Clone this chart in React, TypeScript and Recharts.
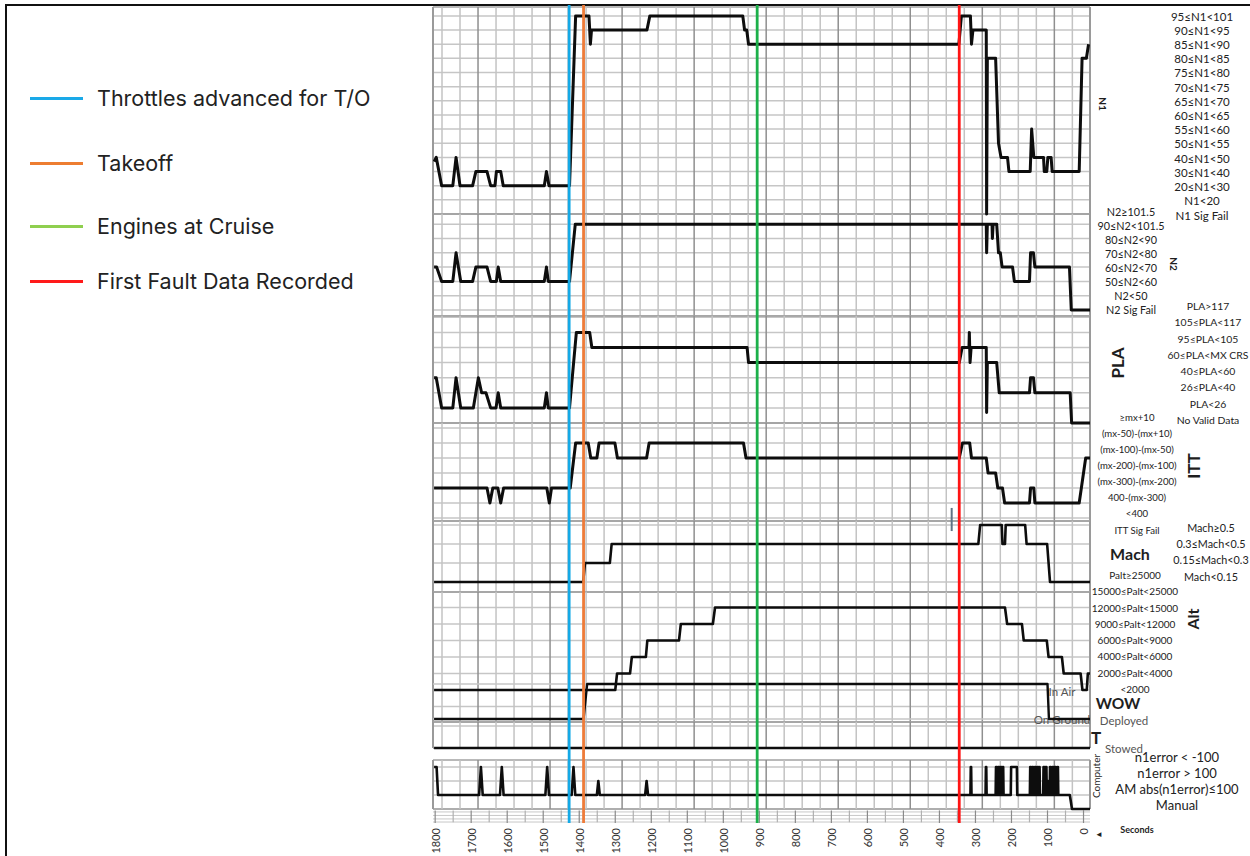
import { ComposedChart, Line, XAxis, YAxis, ReferenceLine } from "recharts";

type Pt = [number, number]; // [seconds before end, level index]

// ---------------- data ----------------
const X_TICKS = [1800, 1700, 1600, 1500, 1400, 1300, 1200, 1100, 1000, 900, 800, 700, 600, 500, 400, 300, 200, 100, 0];

const EVENT_NAMES = ["Throttles advanced for T/O", "Takeoff", "Engines at Cruise", "First Fault Data Recorded"];
const EVENT_TIMES = [1428, 1388, 906, 345];

const N1_LABELS = ["N1 Sig Fail", "N1<20", "20≤N1<30", "30≤N1<40", "40≤N1<50", "50≤N1<55", "55≤N1<60", "60≤N1<65", "65≤N1<70", "70≤N1<75", "75≤N1<80", "80≤N1<85", "85≤N1<90", "90≤N1<95", "95≤N1<101"];
const N2_LABELS = ["N2 Sig Fail", "N2<50", "50≤N2<60", "60≤N2<70", "70≤N2<80", "80≤N2<90", "90≤N2<101.5", "N2≥101.5"];
const PLA_LABELS = ["No Valid Data", "PLA<26", "26≤PLA<40", "40≤PLA<60", "60≤PLA<MX CRS", "95≤PLA<105", "105≤PLA<117", "PLA>117"];
const ITT_LABELS = ["ITT Sig Fail", "<400", "400-(mx-300)", "(mx-300)-(mx-200)", "(mx-200)-(mx-100)", "(mx-100)-(mx-50)", "(mx-50)-(mx+10)", "≥mx+10"];
const MACH_LABELS = ["Mach<0.15", "0.15≤Mach<0.3", "0.3≤Mach<0.5", "Mach≥0.5"];
const ALT_LABELS = ["<2000", "2000≤Palt<4000", "4000≤Palt<6000", "6000≤Palt<9000", "9000≤Palt<12000", "12000≤Palt<15000", "15000≤Palt<25000", "Palt≥25000"];
const WOW_LABELS = ["On Ground", "In Air"];
const TR_LABELS = ["Stowed", "Deployed"];
const COMP_LABELS = ["Manual", "AM abs(n1error)≤100", "n1error > 100", "n1error < -100"];

const N1: Pt[] = [
  [1803, 3.7], [1797, 4], [1782, 2], [1751, 2], [1742, 4], [1731, 2], [1696, 2], [1687, 3], [1656, 3], [1646, 2],
  [1634, 2], [1630, 3], [1618, 3], [1611, 2], [1497, 2], [1491, 3], [1484, 2], [1427, 2], [1410, 14], [1373, 14],
  [1369, 12], [1366, 13], [1212, 13], [1204, 14], [946, 14], [941, 13], [935, 13], [930, 12], [346, 12], [339, 14],
  [314, 14], [311, 12], [307, 13], [270, 13], [269, 0], [267, 11], [244, 11], [236, 5], [229, 4], [211, 4],
  [207, 3], [148, 3], [144, 6], [138, 4], [111, 4], [109, 3], [102, 3], [99, 4], [90, 4], [87, 3],
  [12, 3], [4, 11], [-8, 11], [-14, 12],
];
const N2: Pt[] = [
  [1803, 3], [1796, 3], [1782, 2], [1751, 2], [1742, 4], [1729, 2], [1696, 2], [1687, 3], [1656, 3], [1646, 2],
  [1630, 2], [1625, 3], [1618, 2], [1497, 2], [1491, 3], [1486, 2], [1427, 2], [1411, 6], [270, 6], [269, 4],
  [267, 6], [254, 6], [253, 5], [251, 6], [241, 6], [236, 4], [231, 4], [226, 3], [197, 3], [192, 2],
  [150, 2], [147, 4], [139, 4], [135, 3], [39, 3], [34, 0], [-18, 0],
];
const PLA: Pt[] = [
  [1803, 3], [1797, 3], [1782, 1], [1751, 1], [1742, 3], [1729, 1], [1694, 1], [1680, 3], [1671, 2], [1659, 2],
  [1646, 1], [1631, 1], [1625, 2], [1618, 1], [1497, 1], [1491, 2], [1486, 1], [1427, 1], [1408, 6], [1371, 6],
  [1365, 5], [934, 5], [930, 4], [345, 4], [337, 5], [318, 5], [317, 6], [315, 4], [312, 5], [270, 5],
  [269, 0.7], [267, 4], [241, 4], [234, 2], [150, 2], [147, 3], [139, 3], [135, 2], [37, 2], [33, 0], [-18, 0],
];
const ITT: Pt[] = [
  [1803, 3], [1656, 3], [1648, 2], [1640, 3], [1626, 3], [1618, 2], [1610, 3], [1490, 3], [1483, 2], [1477, 3],
  [1425, 3], [1410, 6], [1375, 6], [1368, 5], [1351, 5], [1345, 6], [1301, 6], [1294, 5], [1213, 5], [1206, 6],
  [944, 6], [937, 5], [345, 5], [336, 6], [316, 6], [311, 5], [270, 5], [265, 4], [244, 4], [238, 3],
  [225, 3], [219, 2], [150, 2], [147, 3], [138, 3], [135, 2], [12, 2], [6, 3], [-6, 5], [-18, 5],
];
const MACH: Pt[] = [
  [1803, 0], [1389, 0], [1384, 1], [1315, 1], [1310, 2], [292, 2], [287, 3], [227, 3], [225, 2], [218, 2],
  [216, 3], [162, 3], [158, 2], [101, 2], [93, 0], [-18, 0],
];
const ALT: Pt[] = [
  [1803, 0], [1300, 0], [1295, 1], [1259, 1], [1254, 2], [1215, 2], [1211, 3], [1123, 3], [1118, 4], [1029, 4],
  [1023, 5], [218, 5], [212, 4], [171, 4], [166, 3], [102, 3], [97, 2], [60, 2], [55, 1], [8, 1],
  [3, 0], [-9, 0], [-12, 1], [-18, 1],
];
const WOW: Pt[] = [[1803, 0], [1388, 0], [1378, 1], [100, 1], [96, 0], [-18, 0]];
const TR: Pt[] = [[1803, 0], [-18, 0]];
const COMP: Pt[] = [
  [1803, 3], [1796, 3], [1792, 1], [1678, 1], [1673, 3], [1668, 1], [1620, 1], [1615, 3], [1610, 1], [1494, 1],
  [1489, 3], [1484, 1], [1421, 1], [1416, 3], [1411, 1], [1351, 1], [1347, 2], [1343, 1], [1217, 1], [1213, 2],
  [1209, 1], [314, 1], [313, 3], [312, 3], [311, 1], [272, 1], [271, 3], [270, 3], [269, 1], [244, 1],
  [243, 3], [241, 3], [240, 1], [238, 1], [237, 3], [234, 3], [233, 1], [231, 1], [230, 3], [228, 3],
  [227, 1], [225, 1], [224, 3], [223, 3], [222, 1], [202, 1], [201, 3], [185, 3], [184, 1], [149, 1],
  [148, 3], [146, 3], [145, 1], [143, 1], [142, 3], [140, 3], [139, 1], [136, 1], [135, 3], [133, 3],
  [132, 1], [129, 1], [128, 3], [126, 3], [125, 1], [123, 1], [122, 3], [121, 1], [112, 1], [111, 3],
  [109, 3], [108, 1], [106, 1], [105, 3], [103, 3], [102, 1], [99, 2], [97, 1], [94, 1], [93, 3],
  [91, 3], [90, 1], [87, 1], [86, 3], [84, 3], [83, 1], [80, 1], [79, 3], [77, 3], [76, 1],
  [73, 1], [72, 3], [71, 3], [70, 1], [38, 1], [32, 0], [-18, 0],
];
// short slate tick drawn in the ITT/Mach gap
const ITT_MARK = { t: 366, from: 0.13, to: 1.67 };

// ---------------- layout / style ----------------
const W = 1250;
const H = 856;
const PLOT_TOP = 5;
const PLOT_BOTTOM = 823;
const PLOT_LEFT = 433;
const PLOT_RIGHT = 1090;
const X_DOMAIN: [number, number] = [-18, 1806];
const FONT = "Lato, 'Open Sans', sans-serif";
const LABEL_AXIS_W = 1;

const EVENT_COLORS = ["#14a9e6", "#ee7b39", "#1cb04a", "#ff1414"];
const LEGEND_COLORS = ["#1aa9e8", "#ed7d31", "#8fcf4f", "#ff1a1a"];
const LEGEND_Y = [98, 163, 226, 281];

interface Panel {
  id: string;
  data: Pt[];
  labels: string[];
  y0: number; // pixel of level 0
  sp: number; // pixels per level
  grid?: [number, number]; // panel extent, in levels
  lbl: { y0: number; sp: number; x: number; size: number; color?: string };
  w: number;
}

const PANELS: Panel[] = [
  { id: "n1", data: N1, labels: N1_LABELS, y0: 214, sp: 14.15, grid: [0, 14.63], lbl: { y0: 215, sp: 14.21, x: 1202, size: 11.5 }, w: 3 },
  { id: "n2", data: N2, labels: N2_LABELS, y0: 310, sp: 14.3, grid: [-0.42, 6.71], lbl: { y0: 309, sp: 13.86, x: 1131, size: 10.8 }, w: 3 },
  { id: "pla", data: PLA, labels: PLA_LABELS, y0: 423, sp: 15.1, grid: [0, 7.09], lbl: { y0: 420, sp: 16.3, x: 1208, size: 10.4 }, w: 3 },
  { id: "itt", data: ITT, labels: ITT_LABELS, y0: 533, sp: 15, grid: [0.8, 7.33], lbl: { y0: 530, sp: 16.14, x: 1137, size: 9.6 }, w: 3 },
  { id: "mach", data: MACH, labels: MACH_LABELS, y0: 582, sp: 19, grid: [-0.53, 3.21], lbl: { y0: 576, sp: 16.3, x: 1211, size: 10.8 }, w: 2.6 },
  { id: "alt", data: ALT, labels: ALT_LABELS, y0: 690, sp: 16.5, grid: [-1.94, 5.94], lbl: { y0: 689, sp: 16.3, x: 1135, size: 10 }, w: 2.6 },
  { id: "wow", data: WOW, labels: WOW_LABELS, y0: 719, sp: 35, lbl: { y0: 719, sp: 28, x: 1062, size: 11.5, color: "#555" }, w: 2.4 },
  { id: "tr", data: TR, labels: TR_LABELS, y0: 748, sp: 22, grid: [0, 1.18], lbl: { y0: 748, sp: 27.5, x: 1124, size: 11.5, color: "#555" }, w: 2.6 },
  { id: "comp", data: COMP, labels: COMP_LABELS, y0: 809, sp: 14, grid: [0, 3.5], lbl: { y0: 805, sp: 16, x: 1177, size: 13 }, w: 2.6 },
];

const TITLES = [
  { text: "N1", x: 1103, y: 104, rot: 90, size: 10, weight: 700 },
  { text: "N2", x: 1174, y: 264, rot: 90, size: 10, weight: 700 },
  { text: "PLA", x: 1117, y: 363, rot: -90, size: 17, weight: 700 },
  { text: "ITT", x: 1193, y: 466, rot: -90, size: 17, weight: 700 },
  { text: "Mach", x: 1130, y: 553, rot: 0, size: 16, weight: 700 },
  { text: "Alt", x: 1192, y: 619, rot: -90, size: 16, weight: 700 },
  { text: "WOW", x: 1118, y: 703, rot: 0, size: 15.5, weight: 700 },
  { text: "T", x: 1096, y: 737, rot: 0, size: 17, weight: 700 },
  { text: "Computer", x: 1096, y: 776, rot: -90, size: 10, weight: 400 },
  { text: "Seconds", x: 1137, y: 829, rot: 0, size: 9, weight: 700 },
  { text: "◄", x: 1099, y: 834, rot: 0, size: 8, weight: 400 },
];

// grid lines sit every 50 s, offset from the axis ticks as in the source figure
const GRID_T = Array.from({ length: 36 }, (_, k) => 1781 - 50 * k);
const RULER_T = Array.from({ length: 37 }, (_, k) => 50 * k);

const dom = (y0: number, sp: number): [number, number] => [(y0 - PLOT_BOTTOM) / sp, (y0 - PLOT_TOP) / sp];
const rows = (pts: Pt[]) => pts.map(([t, v]) => ({ t, v }));

function XTick(props: any) {
  const { x, y, payload } = props;
  return (
    <text x={x} y={y} transform={`rotate(-90 ${x} ${y})`} textAnchor="end" dominantBaseline="central"
      fontSize={11} fill="#333" fontFamily={FONT}>
      {payload.value}
    </text>
  );
}

function Layer({ children, ticks = false, rightAxes = 0 }: { children: any; ticks?: boolean; rightAxes?: number }) {
  return (
    <div style={{ position: "absolute", left: 0, top: 0 }}>
      <ComposedChart width={W} height={H}
        margin={{ top: PLOT_TOP, right: W - PLOT_RIGHT - rightAxes, bottom: 0, left: PLOT_LEFT }}>
        <XAxis xAxisId={0} type="number" dataKey="t" domain={X_DOMAIN} reversed allowDataOverflow
          ticks={X_TICKS} interval={0} height={H - PLOT_BOTTOM} axisLine={false} tickLine={false}
          tickSize={0} tickMargin={5} tick={ticks ? (p: any) => <XTick {...p} /> : false} />
        {PANELS.map((p) => (
          <YAxis key={p.id} yAxisId={p.id} hide type="number" domain={dom(p.y0, p.sp)} allowDataOverflow />
        ))}
        {children}
      </ComposedChart>
    </div>
  );
}

function gridLines() {
  const out: any[] = [];
  PANELS.forEach((p) => {
    const levels: number[] = [];
    if (p.grid) {
      for (let i = Math.ceil(p.grid[0]); i <= Math.floor(p.grid[1]); i++) levels.push(i);
    } else {
      p.labels.forEach((_, i) => levels.push(i));
    }
    levels.forEach((lv) =>
      out.push(<ReferenceLine key={`h${p.id}${lv}`} yAxisId={p.id} y={lv} stroke="#c6c6c6" strokeWidth={1.5} />)
    );
    if (!p.grid) return;
    const [g0, g1] = p.grid;
    out.push(<ReferenceLine key={`b0${p.id}`} yAxisId={p.id} y={g0} stroke="#a2a2a2" strokeWidth={1.5} />);
    out.push(<ReferenceLine key={`b1${p.id}`} yAxisId={p.id} y={g1} stroke="#a2a2a2" strokeWidth={1.5} />);
    GRID_T.forEach((t, k) =>
      out.push(
        <ReferenceLine key={`v${p.id}${t}`} yAxisId={p.id}
          segment={[{ x: t, y: g0 }, { x: t, y: g1 }]}
          stroke={k % 4 === 2 ? "#8f8f8f" : "#c3c3c3"} strokeWidth={1.5} />
      )
    );
    X_DOMAIN.forEach((t) =>
      out.push(
        <ReferenceLine key={`e${p.id}${t}`} yAxisId={p.id}
          segment={[{ x: t, y: g0 }, { x: t, y: g1 }]} stroke="#9a9a9a" strokeWidth={2} />
      )
    );
  });
  // seconds ruler under the Computer panel
  [-0.21, -0.46, -0.71, -0.93].forEach((lv) =>
    out.push(<ReferenceLine key={`r${lv}`} yAxisId="comp" y={lv} stroke="#c8c8c8" strokeWidth={1} />)
  );
  RULER_T.forEach((t) =>
    out.push(
      <ReferenceLine key={`rt${t}`} yAxisId="comp" segment={[{ x: t, y: t % 100 === 0 ? -1 : -0.95 }, { x: t, y: -0.1 }]}
        stroke={t % 100 === 0 ? "#8a8a8a" : "#b0b0b0"} strokeWidth={1.2} />
    )
  );
  return out;
}

export default function App() {
  return (
    <div style={{ position: "absolute", left: 0, top: 0, width: W, height: H, background: "#fff", overflow: "hidden" }}>
      <div style={{ position: "absolute", left: 5, top: 4, width: W - 5, height: H - 4, borderTop: "2px solid #111", borderLeft: "2px solid #111" }} />

      {/* grid, level labels and time axis */}
      <Layer ticks rightAxes={PANELS.length * LABEL_AXIS_W}>
        {gridLines()}
        {PANELS.map((p) => (
          <YAxis key={`l${p.id}`} yAxisId={`l${p.id}`} orientation="right" width={LABEL_AXIS_W} type="number"
            domain={dom(p.lbl.y0, p.lbl.sp)} allowDataOverflow ticks={p.labels.map((_, i) => i)} interval={0}
            axisLine={false} tickLine={false}
            tick={(tp: any) => (
              <text x={p.lbl.x} y={tp.y} textAnchor="middle" dominantBaseline="central"
                fontSize={p.lbl.size} fill={p.lbl.color ?? "#222"} fontFamily={FONT}>
                {p.labels[tp.payload.value]}
              </text>
            )} />
        ))}
      </Layer>

      {/* traces */}
      <Layer>
        {PANELS.map((p) => (
          <Line key={p.id} yAxisId={p.id} data={rows(p.data)} dataKey="v" type="linear" stroke="#0d0d0d"
            strokeWidth={p.w} strokeLinejoin="round" dot={false} activeDot={false} isAnimationActive={false} />
        ))}
        <ReferenceLine yAxisId="itt" segment={[{ x: ITT_MARK.t, y: ITT_MARK.from }, { x: ITT_MARK.t, y: ITT_MARK.to }]}
          stroke="#5f7384" strokeWidth={2} />
      </Layer>

      {/* event markers */}
      <Layer>
        {EVENT_TIMES.map((t, i) => (
          <ReferenceLine key={EVENT_NAMES[i]} yAxisId="n1" x={t} stroke={EVENT_COLORS[i]} strokeWidth={2.8} />
        ))}
      </Layer>

      <svg width={W} height={H} style={{ position: "absolute", left: 0, top: 0, pointerEvents: "none" }}>
        {TITLES.map((tt) => (
          <text key={tt.text} x={tt.x} y={tt.y} textAnchor="middle" dominantBaseline="central"
            transform={tt.rot ? `rotate(${tt.rot} ${tt.x} ${tt.y})` : undefined}
            fontSize={tt.size} fontWeight={tt.weight} fill="#1e1e1e" fontFamily={FONT}>
            {tt.text}
          </text>
        ))}
      </svg>

      <div style={{ position: "absolute", left: 0, top: 0, fontFamily: "Inter, 'Open Sans', sans-serif" }}>
        {EVENT_NAMES.map((name, i) => (
          <div key={name} style={{ position: "absolute", left: 30, top: LEGEND_Y[i] - 15, height: 30, display: "flex", alignItems: "center", whiteSpace: "nowrap" }}>
            <span style={{ display: "block", width: 53, height: 3, background: LEGEND_COLORS[i], marginRight: 14 }} />
            <span style={{ display: "block", fontSize: 21.5, color: "#222" }}>{name}</span>
          </div>
        ))}
      </div>
    </div>
  );
}
